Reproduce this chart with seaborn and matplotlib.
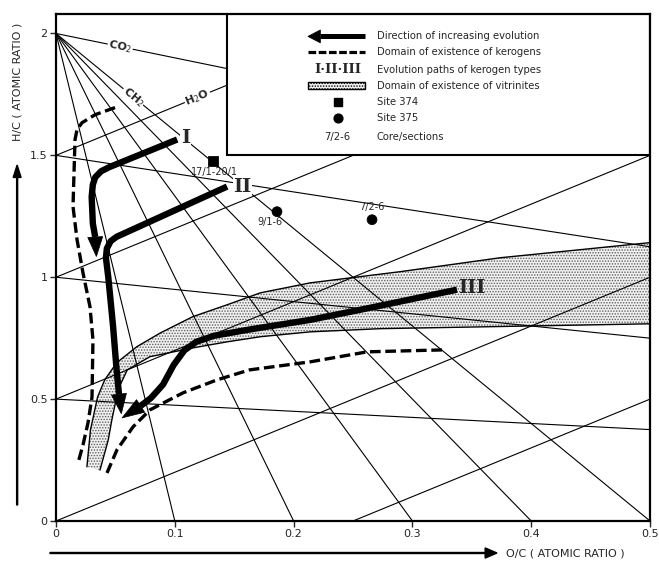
import numpy as np
import pandas as pd
import matplotlib
matplotlib.use("Agg")
import matplotlib.pyplot as plt
from matplotlib.patches import Rectangle, Polygon
import seaborn as sns

# ---- reaction-line families of the van Krevelen diagram ----
fan_origin_hc = 2.0                           # lines radiating from H/C = 2
fan_end_oc = [0.1, 0.2, 0.3, 0.4, 0.5]         # where they reach H/C = 0
co2_pole = (2.0, 0.0)                          # CO2 lines converge here
co2_start_hc = [2.0, 1.5, 1.0, 0.5]
h2o_slope = 2.0
h2o_intercepts = [1.5, 1.0, 0.5, 0.0, -0.5]

# ---- domain of existence of vitrinites (band edges) ----
band_outer_oc = [0.026, 0.029, 0.035, 0.041, 0.051, 0.068, 0.088, 0.115, 0.144, 0.172, 0.214, 0.290, 0.374, 0.500]
band_outer_hc = [0.222, 0.374, 0.509, 0.579, 0.649, 0.715, 0.772, 0.838, 0.887, 0.936, 0.977, 1.023, 1.080, 1.142]
band_inner_oc = [0.037, 0.044, 0.047, 0.050, 0.054, 0.060, 0.079, 0.115, 0.144, 0.172, 0.214, 0.273, 0.500]
band_inner_hc = [0.209, 0.333, 0.415, 0.485, 0.558, 0.620, 0.674, 0.710, 0.735, 0.756, 0.776, 0.789, 0.809]

# ---- domain of existence of kerogens (dashed limits) ----
ker_left_oc = [0.0497, 0.033, 0.0219, 0.0177, 0.016, 0.0143, 0.0177, 0.0227, 0.0286, 0.0311, 0.0303, 0.0269, 0.0227, 0.0185]
ker_left_hc = [1.696, 1.667, 1.634, 1.606, 1.565, 1.290, 1.154, 1.018, 0.879, 0.743, 0.509, 0.402, 0.312, 0.238]
ker_right_oc = [0.0429, 0.0513, 0.0648, 0.0791, 0.107, 0.1355, 0.163, 0.214, 0.262, 0.326]
ker_right_hc = [0.197, 0.292, 0.386, 0.456, 0.526, 0.579, 0.620, 0.653, 0.694, 0.702]

# ---- evolution paths of kerogen types I, II, III ----
path_I_oc = [0.102, 0.045, 0.038, 0.033, 0.031, 0.030, 0.031, 0.033]
path_I_hc = [1.565, 1.452, 1.435, 1.410, 1.380, 1.330, 1.220, 1.165]
path_I_tip = (0.034, 1.085)
path_II_oc = [0.144, 0.051, 0.046, 0.0428, 0.042, 0.044, 0.048, 0.051, 0.053]
path_II_hc = [1.372, 1.166, 1.148, 1.118, 1.080, 1.000, 0.800, 0.620, 0.520]
path_II_tip = (0.055, 0.440)
path_III_oc = [0.3375, 0.2727, 0.2138, 0.1633, 0.1330, 0.1180, 0.1080, 0.0990, 0.0901, 0.0800, 0.0712]
path_III_hc = [0.949, 0.883, 0.825, 0.786, 0.760, 0.735, 0.700, 0.640, 0.560, 0.505, 0.472]
path_III_tip = (0.0556, 0.423)
path_names = ["I", "II", "III"]
path_label_pos = [(0.109, 1.573), (0.157, 1.372), (0.350, 0.957)]

# ---- samples, Sites 374 and 375 ----
sample_oc = [0.132, 0.186, 0.266]
sample_hc = [1.478, 1.269, 1.236]
sample_site = ["Site 374", "Site 375", "Site 375"]
sample_label = ["17/1-20/1", "9/1-6", "7/2-6"]
sample_label_pos = [(0.133, 1.430), (0.180, 1.228), (0.266, 1.287)]

legend_texts = ["Direction of increasing evolution",
                "Domain of existence of kerogens",
                "Evolution paths of kerogen types",
                "Domain of existence of vitrinites",
                "Site 374",
                "Site 375",
                "Core/sections"]

sns.set_style("white")
plt.rcParams["font.family"] = ["DejaVu Sans"]
plt.rcParams["hatch.linewidth"] = 0.7
plt.rcParams["hatch.color"] = "#606060"

fig = plt.figure(figsize=(6.59, 5.66), dpi=100)
ax = fig.add_axes([0.085, 0.0795, 0.9014, 0.8958])
ax.set_xlim(0, 0.5)
ax.set_ylim(0, 2.08)

# reaction lines
rows = []
for k, xe in enumerate(fan_end_oc):
    rows += [(f"f{k}", 0.0, fan_origin_hc), (f"f{k}", xe, 0.0)]
for k, c in enumerate(co2_start_hc):
    rows += [(f"c{k}", 0.0, c), (f"c{k}", co2_pole[0], co2_pole[1])]
for k, c in enumerate(h2o_intercepts):
    rows += [(f"h{k}", -1.0, c - h2o_slope), (f"h{k}", 1.0, c + h2o_slope)]
grid = pd.DataFrame(rows, columns=["line", "oc", "hc"])
sns.lineplot(data=grid, x="oc", y="hc", units="line", estimator=None, sort=False,
             color="black", lw=0.8, ax=ax, zorder=2, legend=False)

# vitrinite band
poly = list(zip(band_outer_oc, band_outer_hc)) + list(zip(band_inner_oc[::-1], band_inner_hc[::-1]))
ax.add_patch(Polygon(poly, closed=True, facecolor="#f0f0f0", edgecolor="#606060",
                     hatch="......", lw=0, zorder=1))
for xs, ys in [(band_outer_oc, band_outer_hc), (band_inner_oc, band_inner_hc)]:
    sns.lineplot(x=xs, y=ys, sort=False, estimator=None, color="black", lw=1.0, ax=ax, zorder=2)

# kerogen domain
for xs, ys in [(ker_left_oc, ker_left_hc), (ker_right_oc, ker_right_hc)]:
    sns.lineplot(x=xs, y=ys, sort=False, estimator=None, color="black", lw=2.4,
                 ax=ax, zorder=3).lines[-1].set_dashes((3.2, 1.4))

fig.canvas.draw()


def arrow_head(base, tip, width_px, z=4):
    b = ax.transData.transform(base)
    t = ax.transData.transform(tip)
    d = t - b
    n = np.array([-d[1], d[0]]) / np.hypot(*d) * width_px / 2
    pts = ax.transData.inverted().transform([b + n, t, b - n])
    ax.add_patch(Polygon(pts, closed=True, facecolor="black", edgecolor="black", lw=0.5, zorder=z))


paths = [(path_I_oc, path_I_hc, path_I_tip), (path_II_oc, path_II_hc, path_II_tip),
         (path_III_oc, path_III_hc, path_III_tip)]
for (xs, ys, tip), name, pos in zip(paths, path_names, path_label_pos):
    ln = sns.lineplot(x=xs, y=ys, sort=False, estimator=None, color="black", lw=4.6,
                      ax=ax, zorder=4).lines[-1]
    ln.set_solid_capstyle("butt")
    ln.set_solid_joinstyle("round")
    arrow_head((xs[-1], ys[-1]), tip, 15)
    ax.text(pos[0], pos[1], name, family="DejaVu Serif", weight="bold", fontsize=14,
            ha="center", va="center", zorder=4,
            bbox=dict(fc="white", ec="none", pad=0.5) if name != "III" else None)

# samples
samples = pd.DataFrame({"oc": sample_oc, "hc": sample_hc, "site": sample_site})
sns.scatterplot(data=samples, x="oc", y="hc", style="site",
                markers={"Site 374": "s", "Site 375": "o"}, color="black",
                s=50, edgecolor="black", legend=False, ax=ax, zorder=5)
for lab, (x, y) in zip(sample_label, sample_label_pos):
    ax.text(x, y, lab, fontsize=7, ha="center", va="center", zorder=5)

# labels on the reaction lines
for txt, (x, y), slope in [("CO$_2$", (0.054, 1.946), -1.0),
                           ("CH$_2$", (0.065, 1.740), -4.0),
                           ("H$_2$O", (0.119, 1.738), 2.0)]:
    ax.text(x, y, txt, fontsize=8, weight="bold", ha="center", va="center",
            rotation=np.degrees(np.arctan(slope)), transform_rotates_text=True,
            rotation_mode="anchor", zorder=3, bbox=dict(fc="white", ec="none", pad=0.6))

# legend box
ax.add_patch(Rectangle((0.144, 1.5), 0.356, 0.6, facecolor="white", edgecolor="black",
                       lw=1.5, zorder=6))
rows_y = [1.988, 1.922, 1.852, 1.786, 1.717, 1.655, 1.577]
sym_x0, sym_x1, sym_xc, text_x = 0.212, 0.260, 0.237, 0.270
ax.plot([0.222, sym_x1], [rows_y[0]] * 2, color="black", lw=3.6, zorder=7,
        solid_capstyle="butt")
arrow_head((0.2225, rows_y[0]), (sym_x0, rows_y[0]), 13, z=7)
ln = ax.plot([sym_x0, sym_x1], [rows_y[1]] * 2, color="black", lw=2.3, zorder=7)[0]
ln.set_dashes((2.4, 0.8))
ax.text(sym_xc, rows_y[2], "I\u00b7II\u00b7III", family="DejaVu Serif", weight="bold",
        fontsize=9.5, ha="center", va="center", zorder=7)
ax.add_patch(Rectangle((sym_x0, rows_y[3] - 0.013), sym_x1 - sym_x0, 0.026,
                       facecolor="#f0f0f0", edgecolor="black", hatch="......", lw=1.0, zorder=7))
ax.scatter([sym_xc], [rows_y[4]], marker="s", s=40, color="black", zorder=7)
ax.scatter([sym_xc], [rows_y[5]], marker="o", s=40, color="black", zorder=7)
ax.text(sym_xc, rows_y[6], "7/2-6", fontsize=7.2, ha="center", va="center", zorder=7)
for y, t in zip(rows_y, legend_texts):
    ax.text(text_x, y, t, fontsize=7.2, ha="left", va="center", zorder=7)

# axes styling
ax.set_xticks([0, 0.1, 0.2, 0.3, 0.4, 0.5])
ax.set_xticklabels(["0", "0.1", "0.2", "0.3", "0.4", "0.5"])
ax.set_yticks([0, 0.5, 1, 1.5, 2])
ax.set_yticklabels(["0", "0.5", "1", "1.5", "2"])
ax.tick_params(direction="out", length=4, width=1, labelsize=8, pad=2,
               bottom=True, left=True)
ax.set_xlabel("")
ax.set_ylabel("")
for s in ax.spines.values():
    s.set_linewidth(1.6)
    s.set_color("black")
    s.set_zorder(8)

# axis titles with arrows
fig.text(0.026, 0.855, "H/C ( ATOMIC RATIO )", rotation=90, fontsize=8,
         ha="center", va="center")
fig.patches.append(matplotlib.patches.FancyArrow(
    0.026, 1 - 505 / 566, 0, (505 - 165) / 566, width=0.0015, head_width=0.012,
    head_length=0.022, length_includes_head=True, color="black", transform=fig.transFigure))
fig.text(0.768, 1 - 553 / 566, "O/C ( ATOMIC RATIO )", fontsize=8, ha="left", va="center")
fig.patches.append(matplotlib.patches.FancyArrow(
    50 / 659, 1 - 553 / 566, (497 - 50) / 659, 0, width=0.0018, head_width=0.018,
    head_length=0.018, length_includes_head=True, color="black", transform=fig.transFigure))

fig.savefig("out.png", dpi=100)
